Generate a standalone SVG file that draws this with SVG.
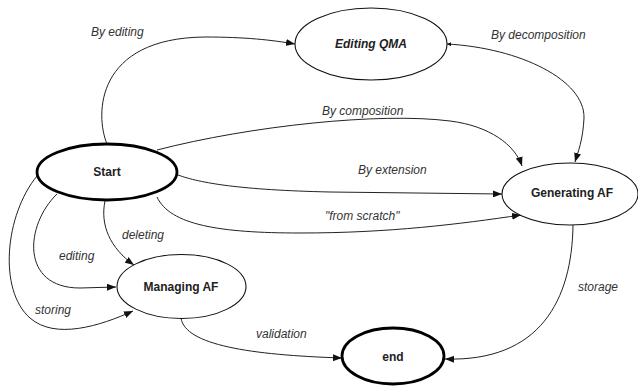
<svg xmlns="http://www.w3.org/2000/svg" width="638" height="386" viewBox="0 0 638 386">
  <defs>
    <style>
      .node { fill: #ffffff; stroke: #111111; stroke-width: 1.1; }
      .term { fill: #ffffff; stroke: #000000; stroke-width: 2.8; }
      .name { font-family: "Liberation Sans", Arial, sans-serif; font-size: 12px; font-weight: bold; fill: #222222; text-anchor: middle; dominant-baseline: central; }
      .edge { fill: none; stroke: #222222; stroke-width: 1; }
      .label { font-family: "Liberation Sans", Arial, sans-serif; font-size: 12px; font-style: italic; fill: #333333; }
    </style>
    <marker id="arrow" markerUnits="userSpaceOnUse" markerWidth="9" markerHeight="7" refX="9" refY="3.5" orient="auto">
      <path d="M0,0 L9,3.5 L0,7 z" fill="#111111"/>
    </marker>
    <marker id="tick" markerUnits="userSpaceOnUse" markerWidth="4" markerHeight="4" refX="0" refY="2" orient="auto">
      <path d="M4,0 L0,2 L4,4 z" fill="#111111"/>
    </marker>
  </defs>

  <g id="connectors">
    <path class="edge" d="M107,144 C 95,115 95,38 205,37 C 245,37 272,40 295,44" marker-end="url(#arrow)"/>
    <path class="edge" d="M447,44 C 520,48 585,80 584,118 C 583,140 578,152 575,162" marker-start="url(#tick)" marker-end="url(#arrow)"/>
    <path class="edge" d="M157,150 C 250,126 380,112 450,121 C 490,126 515,145 522,166" marker-end="url(#arrow)"/>
    <path class="edge" d="M178,175 C 200,183 240,190 330,192 L 502,194" marker-end="url(#arrow)"/>
    <path class="edge" d="M157,197 C 170,225 220,233 300,233 C 390,233 460,224 521,215" marker-end="url(#arrow)"/>
    <path class="edge" d="M105,201 C 100,225 110,248 134,265" marker-end="url(#arrow)"/>
    <path class="edge" d="M57,194 C 25,225 20,288 80,288 L 116,287" marker-end="url(#arrow)"/>
    <path class="edge" d="M37,176 C 5,215 -2,290 30,318 C 55,340 100,326 133,311" marker-end="url(#arrow)"/>
    <path class="edge" d="M181,318 C 185,345 250,355 342,358" marker-end="url(#arrow)"/>
    <path class="edge" d="M573,225 C 572,300 540,362 445,359" marker-end="url(#arrow)"/>

    <text class="label" x="91" y="36">By editing</text>
    <text class="label" x="491" y="39">By decomposition</text>
    <text class="label" x="322" y="115">By composition</text>
    <text class="label" x="358" y="174">By extension</text>
    <text class="label" x="325" y="220">"from scratch"</text>
    <text class="label" x="122" y="239">deleting</text>
    <text class="label" x="59" y="260">editing</text>
    <text class="label" x="35" y="314">storing</text>
    <text class="label" x="256" y="338">validation</text>
    <text class="label" x="578" y="291">storage</text>
  </g>

  <g id="editing-qma">
    <ellipse class="node" cx="371" cy="44" rx="76" ry="36"/>
    <text class="name" x="371" y="44" font-style="italic">Editing QMA</text>
  </g>
  <g id="start">
    <ellipse class="term" cx="107" cy="172" rx="70" ry="28"/>
    <text class="name" x="107" y="172">Start</text>
  </g>
  <g id="generating-af">
    <ellipse class="node" cx="570" cy="194" rx="68" ry="31"/>
    <text class="name" x="572" y="193">Generating AF</text>
  </g>
  <g id="managing-af">
    <ellipse class="node" cx="181.5" cy="286.5" rx="64.5" ry="32"/>
    <text class="name" x="181" y="287">Managing AF</text>
  </g>
  <g id="end">
    <ellipse class="term" cx="393" cy="356" rx="51" ry="28"/>
    <text class="name" x="393" y="357">end</text>
  </g>
</svg>
